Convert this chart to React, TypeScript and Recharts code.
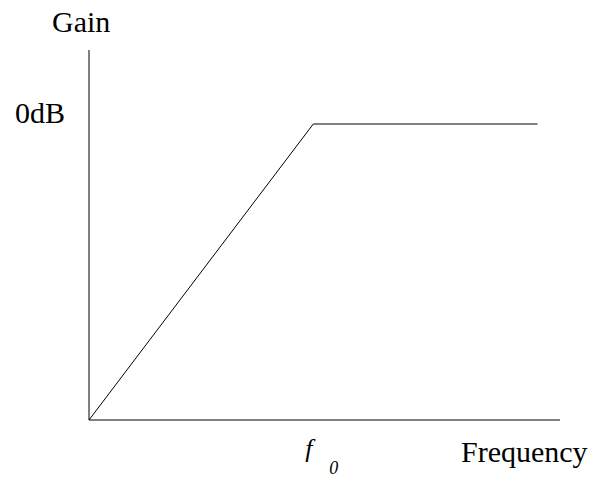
import { LineChart, Line, XAxis, YAxis, Label } from 'recharts';

// normalised frequency (f0 = 1) and gain (0dB = 1)
const frequency = [0, 1, 2];
const gain = [0, 1, 1];
const xTicks = [1];
const yTicks = [1];

const data = frequency.map((f, i) => ({ f, gain: gain[i] }));

const SERIF = "'Liberation Serif', 'Times New Roman', serif";

function FreqTick(props: any) {
  const { x, y } = props;
  return (
    <g>
      <text x={x - 8} y={y + 37} fontFamily={SERIF} fontSize={26} fontStyle="italic" fill="#000">
        f
      </text>
      <text x={x + 16} y={y + 54} fontFamily={SERIF} fontSize={18} fontStyle="italic" fill="#000">
        0
      </text>
    </g>
  );
}

function GainTick(props: any) {
  const { x, y } = props;
  return (
    <text x={x - 24} y={y - 1} textAnchor="end" fontFamily={SERIF} fontSize={30} fill="#000">
      0dB
    </text>
  );
}

export default function App() {
  return (
    // cancel the body margin so the svg sits at the page's corner
    <div style={{ margin: '-8px 0 0 -8px' }}>
      <LineChart
        width={602}
        height={478}
        data={data}
        margin={{ top: 50, right: 42, left: 19, bottom: 8 }}
      >
        <XAxis
          dataKey="f"
          type="number"
          domain={[0, 2.1]}
          ticks={xTicks}
          tickLine={false}
          tickSize={0}
          tickMargin={0}
          height={50}
          axisLine={{ stroke: '#000' }}
          tick={<FreqTick />}
        >
          <Label
            content={() => (
              <text x={461} y={462} fontFamily={SERIF} fontSize={30} fill="#000">
                Frequency
              </text>
            )}
          />
        </XAxis>
        <YAxis
          type="number"
          domain={[0, 1.25]}
          ticks={yTicks}
          tickLine={false}
          tickSize={0}
          tickMargin={0}
          width={70}
          axisLine={{ stroke: '#000' }}
          tick={<GainTick />}
        >
          <Label
            content={() => (
              <text x={52} y={32} fontFamily={SERIF} fontSize={30} fill="#000">
                Gain
              </text>
            )}
          />
        </YAxis>
        <Line
          type="linear"
          dataKey="gain"
          stroke="#000"
          strokeWidth={1}
          dot={false}
          activeDot={false}
          isAnimationActive={false}
        />
      </LineChart>
    </div>
  );
}
